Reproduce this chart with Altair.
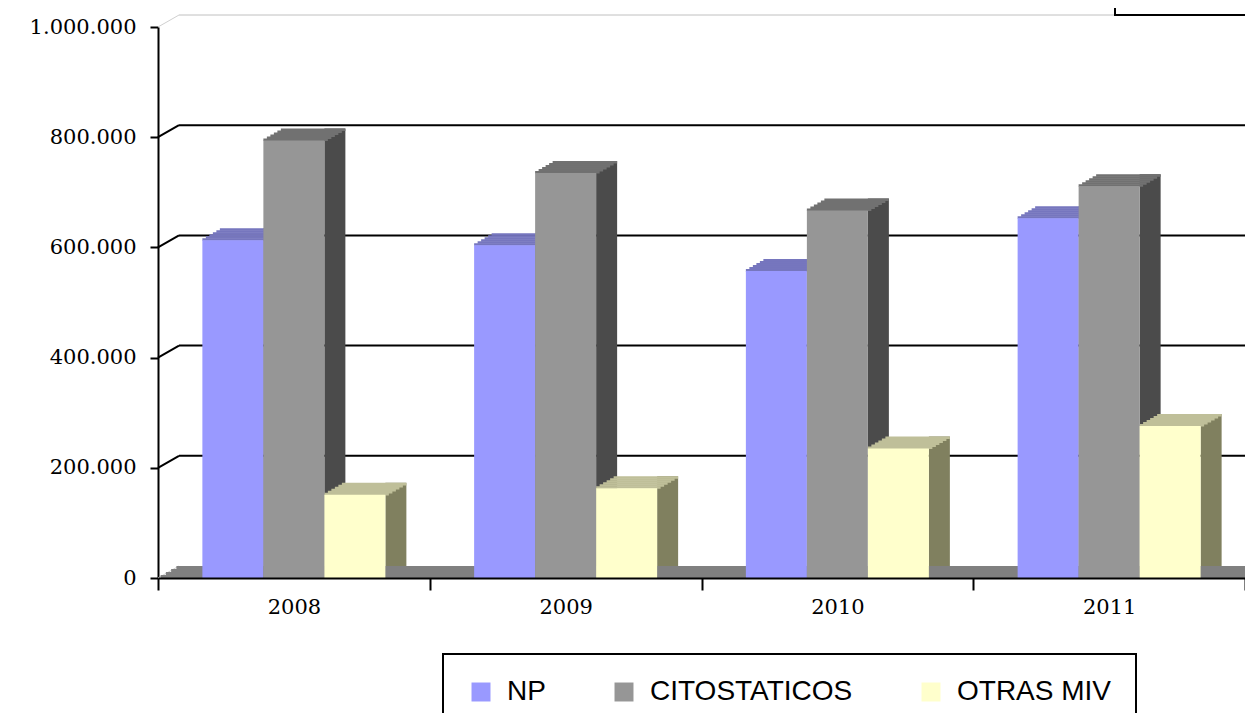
import altair as alt
import pandas as pd

# ---- data ----
YEARS = ["2008", "2009", "2010", "2011"]
SERIES = ["NP", "CITOSTATICOS", "OTRAS MIV"]
NP = [613000, 604000, 557000, 653000]
CITOSTATICOS = [794000, 735000, 667000, 711000]
OTRAS_MIV = [151000, 163000, 235000, 276000]
Y_TICKS = [0, 200000, 400000, 600000, 800000, 1000000]
GRID_LINES = [200000, 400000, 600000, 800000, 1000000]

FRONT = ["#9999FF", "#969696", "#FFFFCC"]
TOP = ["#7676BE", "#717171", "#BFBF99"]
SIDE = ["#5C5C99", "#4B4B4B", "#80805F"]

# ---- geometry / style ----
W, H = 1087, 551
DX, DY = 21, 12          # 3-D depth of bars and walls
N = 6                    # strips used for slanted top faces
NF = 4                   # strips used for the slanted floor corner
BAR_W = 61

y_scale = alt.Scale(domain=[0, 1000000], nice=False, zero=True)
y_axis = alt.Axis(
    values=Y_TICKS,
    labelExpr="replace(format(datum.value, ','), regexp(',', 'g'), '.')",
    title=None, grid=False, domainColor="black", domainWidth=2,
    tickColor="black", tickWidth=2, tickSize=8,
    labelFont="DejaVu Serif", labelFontSize=21, labelColor="black",
    labelPadding=14,
)
x_axis = alt.Axis(
    title=None, grid=False, tickBand="extent", domainColor="black",
    domainWidth=2, tickColor="black", tickWidth=2, tickSize=12,
    labelFont="DejaVu Serif", labelFontSize=21, labelColor="black",
    labelPadding=6, labelAngle=0, zindex=1,
)

X = alt.X("year:N", sort=YEARS, scale=alt.Scale(paddingInner=0, paddingOuter=0), axis=x_axis)
Y = alt.Y("value:Q", scale=y_scale, axis=y_axis)

layers = []

# back-wall gridlines
grid_df = pd.DataFrame({"v": GRID_LINES})
layers.append(
    alt.Chart(grid_df).mark_rule(yOffset=-DY).encode(
        x=alt.value(DX), x2=alt.value(W + 40),
        y=alt.Y("v:Q", scale=y_scale, axis=y_axis),
        color=alt.condition(alt.datum.v == 1000000, alt.value("#C0C0C0"), alt.value("black")),
        strokeWidth=alt.condition(alt.datum.v == 1000000, alt.value(1), alt.value(2)),
    )
)
# side-wall connectors
conn_df = pd.DataFrame({"v": Y_TICKS})
layers.append(
    alt.Chart(conn_df).mark_rule(y2Offset=-DY).encode(
        x=alt.value(0), x2=alt.value(DX),
        y=alt.Y("v:Q", scale=y_scale, axis=y_axis), y2="v:Q",
        color=alt.condition(
            (alt.datum.v == 1000000) | (alt.datum.v == 0), alt.value("#D0D0D0"), alt.value("black")
        ),
        strokeWidth=alt.condition(
            (alt.datum.v == 1000000) | (alt.datum.v == 0), alt.value(1), alt.value(2)
        ),
    )
)
# floor
floor_df = pd.DataFrame({"v": [0]})
for k in range(1, NF + 1):
    layers.append(
        alt.Chart(floor_df).mark_rect(
            color="#808080", yOffset=-k * DY / NF, y2Offset=-(k - 1) * DY / NF + 0.6
        ).encode(
            x=alt.value((k - 0.5) * DX / NF), x2=alt.value(W + 40),
            y=alt.Y("v:Q", scale=y_scale, axis=y_axis), y2="v:Q",
        )
    )

series_frames = []
for s, vals in zip(SERIES, [NP, CITOSTATICOS, OTRAS_MIV]):
    series_frames.append(pd.DataFrame({"year": YEARS, "series": s, "value": vals}))

n_s = len(SERIES)
sides, tops, fronts = [], [], []
for i, (sdf, side_c, top_c) in enumerate(zip(series_frames, SIDE, TOP)):
    shift = (i - (n_s - 1) / 2) * BAR_W
    sides.append(
        alt.Chart(sdf).mark_bar(
            width=DX, xOffset=shift + BAR_W / 2 + DX / 2, yOffset=-DY, color=side_c
        ).encode(x=X, y=Y)
    )
    for k in range(1, N + 1):
        tops.append(
            alt.Chart(sdf).mark_bar(
                width=BAR_W + DX / N,
                xOffset=shift + (2 * k - 1) * DX / (2 * N),
                yOffset=-k * DY / N, y2Offset=-(k - 1) * DY / N + 0.6,
                color=top_c,
            ).encode(x=X, y=Y, y2="value:Q")
        )
    fronts.append(
        alt.Chart(sdf).mark_bar(width=BAR_W, xOffset=shift).encode(
            x=X, y=Y,
            color=alt.Color(
                "series:N", sort=SERIES,
                scale=alt.Scale(domain=SERIES, range=FRONT),
                legend=alt.Legend(
                    title=None, orient="none", legendX=285, legendY=627,
                    direction="horizontal", symbolType="square", symbolSize=360,
                    symbolStrokeWidth=0, labelFont="Liberation Sans", labelFontSize=28,
                    labelColor="black", labelOffset=12, columnPadding=64, padding=24,
                    strokeColor="black", fillColor="white", labelLimit=500,
                ),
            ),
        )
    )
layers += sides + tops + fronts

# cut-off title frame at top right
box_df = pd.DataFrame({"a": [0]})
layers.append(
    alt.Chart(box_df).mark_rect(fill="white", stroke="black", strokeWidth=2).encode(
        x=alt.value(957), x2=alt.value(W + 30), y=alt.value(-60), y2=alt.value(-12)
    )
)

chart = alt.layer(*layers).properties(
    width=W, height=H,
    autosize=alt.AutoSizeParams(type="none"),
    padding={"left": 150, "top": 19, "right": 0, "bottom": 135},
).configure_view(stroke=None).configure_legend(strokeWidth=2)

chart.save("out.html", embed_options={"renderer": "svg", "actions": False})
